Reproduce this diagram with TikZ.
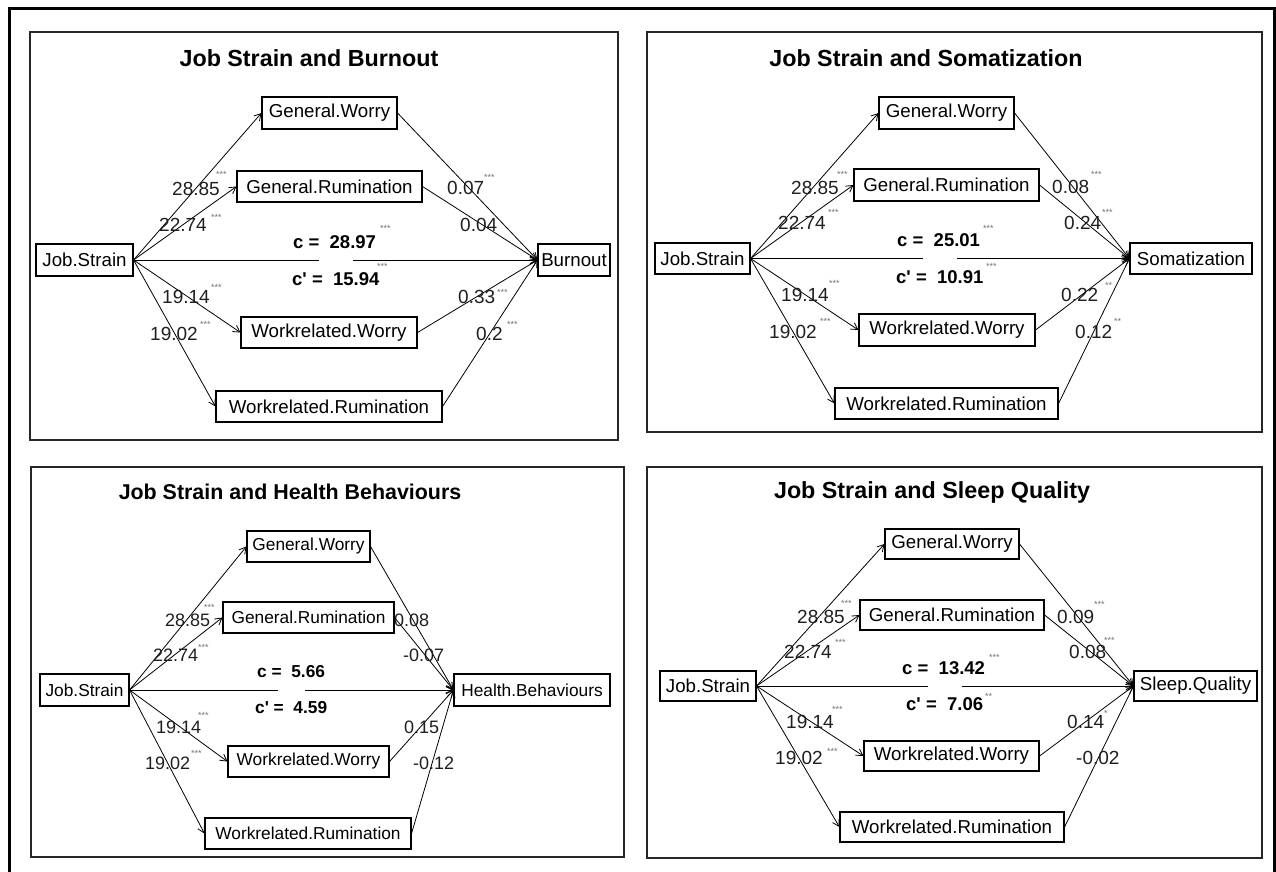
\documentclass[tikz,border=0pt]{standalone}
\usepackage{fontspec}
\setmainfont{Liberation Sans}
\usetikzlibrary{arrows.meta}

% box given by its corners: name, x1, y1, x2, y2, text
\newcommand\boxat[6]{%
  \node[box, minimum width={#4-#2}, minimum height={#5-#3}] (#1) at ({(#2+#4)/2},{(#3+#5)/2}) {#6};}
% path coefficient: name, left x, centre y, text
\newcommand\coefat[4]{\node[coef] (#1) at (#2,#3) {#4};}
% total / direct effect: name, left x, centre y, text
\newcommand\cvalat[4]{\node[cval] (#1) at (#2,#3) {#4};}
% significance stars: name, left x, centre y, stars
\newcommand\starsat[4]{\node[stars] (#1) at (#2,#3) {#4};}
\newcommand\cpr{c\textquotesingle}

\tikzset{
  frame/.style={draw=black!85, line width=1.3pt},
  box/.style={draw, line width=1.1pt, inner sep=0pt, font=\fontsize{18.7}{22}\selectfont},
  coef/.style={anchor=west, inner sep=0pt, font=\fontsize{19}{22}\selectfont, text=black!88},
  cval/.style={anchor=west, inner sep=0pt, font=\bfseries\fontsize{18.5}{22}\selectfont},
  stars/.style={anchor=west, inner sep=0pt, font=\fontsize{9}{10}\selectfont, text=black!55},
  ttl/.style={font=\bfseries\fontsize{23.3}{26}\selectfont},
  arr/.style={line width=0.8pt, -{Straight Barb[angle=60:7.5pt]}},
  direct/.style={line width=1pt, -{Straight Barb[angle=60:7.5pt]}},
  gap/.style={fill=white, inner sep=0pt, minimum width=34pt, minimum height=5pt},
}

\begin{document}
\begin{tikzpicture}[x=1pt,y=-1pt]
\path[use as bounding box, fill=white] (0,0) rectangle (1276,871);

% outer frame
\draw[line width=2.7pt] (9.3,880) -- (9.3,8.7) -- (1274.6,8.7) -- (1274.6,880);

% ---------- Job Strain and Burnout ----------
\draw[frame] (30,32) rectangle (618,440);
\node[ttl] (p1title) at (309,58) {Job Strain and Burnout};
\boxat{p1js}{36}{244}{133}{276}{Job.Strain}
\boxat{p1gw}{262}{97}{397}{129}{General.Worry}
\boxat{p1gr}{237}{171}{422}{202}{General.Rumination}
\boxat{p1ww}{241}{317}{417}{348}{Workrelated.Worry}
\boxat{p1wr}{216}{391}{442}{422}{Workrelated.Rumination}
\boxat{p1out}{538}{244}{610}{276}{Burnout}
\foreach \m in {gw,gr,ww,wr} {
  \draw[arr] (p1js.east) -- (p1\m.west);
  \draw[arr] (p1\m.east) -- (p1out.west);
}
\draw[direct] (p1js.east) -- node[gap] (p1gap) {} (p1out.west);
\coefat{p1a}{172}{189}{28.85}  \starsat{p1as}{216}{174}{***}
\coefat{p1b}{159}{225}{22.74}  \starsat{p1bs}{211}{217}{***}
\coefat{p1c}{162}{297}{19.14}  \starsat{p1cs}{211}{287}{***}
\coefat{p1d}{150}{334}{19.02}  \starsat{p1ds}{200}{324}{***}
\coefat{p1e}{447}{188}{0.07}   \starsat{p1es}{484}{177}{***}
\coefat{p1f}{460}{225}{0.04}
\coefat{p1g}{458}{297}{0.33}   \starsat{p1gs}{497}{292}{***}
\coefat{p1h}{476}{334}{0.2}    \starsat{p1hs}{507}{324}{***}
\cvalat{p1tot}{293}{242}{c = \ 28.97}    \starsat{p1tots}{380}{228}{***}
\cvalat{p1dir}{292}{279}{\cpr{} = \ 15.94} \starsat{p1dirs}{377}{266}{***}

% ---------- Job Strain and Somatization ----------
\draw[frame] (647,32) rectangle (1262,432);
\node[ttl] (p2title) at (926,58) {Job Strain and Somatization};
\boxat{p2js}{655}{243}{750}{274}{Job.Strain}
\boxat{p2gw}{879}{97}{1014}{129}{General.Worry}
\boxat{p2gr}{854}{169}{1039}{201}{General.Rumination}
\boxat{p2ww}{859}{314}{1035}{346}{Workrelated.Worry}
\boxat{p2wr}{835}{388}{1058}{419}{Workrelated.Rumination}
\boxat{p2out}{1130}{243}{1252}{274}{Somatization}
\foreach \m in {gw,gr,ww,wr} {
  \draw[arr] (p2js.east) -- (p2\m.west);
  \draw[arr] (p2\m.east) -- (p2out.west);
}
\draw[direct] (p2js.east) -- node[gap] (p2gap) {} (p2out.west);
\coefat{p2a}{791}{188}{28.85}  \starsat{p2as}{837}{174}{***}
\coefat{p2b}{778}{223}{22.74}  \starsat{p2bs}{828}{212}{***}
\coefat{p2c}{781}{295}{19.14}  \starsat{p2cs}{829}{283}{***}
\coefat{p2d}{769}{332}{19.02}  \starsat{p2ds}{820}{321}{***}
\coefat{p2e}{1052}{187}{0.08}  \starsat{p2es}{1091}{174}{***}
\coefat{p2f}{1064}{223}{0.24}  \starsat{p2fs}{1102}{212}{***}
\coefat{p2g}{1061}{295}{0.22}  \starsat{p2gs}{1105}{285}{**}
\coefat{p2h}{1075}{332}{0.12}  \starsat{p2hs}{1114}{321}{**}
\cvalat{p2tot}{897}{240}{c = \ 25.01}    \starsat{p2tots}{983}{228}{***}
\cvalat{p2dir}{896}{277}{\cpr{} = \ 10.91} \starsat{p2dirs}{986}{266}{***}

% ---------- Job Strain and Health Behaviours ----------
\begin{scope}[box/.append style={font=\fontsize{17.3}{20}\selectfont},
              coef/.append style={font=\fontsize{18}{21}\selectfont},
              cval/.append style={font=\bfseries\fontsize{17.3}{20}\selectfont},
              ttl/.append style={font=\bfseries\fontsize{21.4}{24}\selectfont}]
\draw[frame] (31,467) rectangle (624,857);
\node[ttl] (p3title) at (290,492) {Job Strain and Health Behaviours};
\boxat{p3js}{40}{674}{129}{706}{Job.Strain}
\boxat{p3gw}{247}{531}{370}{562}{General.Worry}
\boxat{p3gr}{223}{602}{394}{633}{General.Rumination}
\boxat{p3ww}{228}{746}{389}{777}{Workrelated.Worry}
\boxat{p3wr}{205}{818}{411}{849}{Workrelated.Rumination}
\boxat{p3out}{454}{674}{610}{706}{Health.Behaviours}
\foreach \m in {gw,gr,ww,wr} {
  \draw[arr] (p3js.east) -- (p3\m.west);
  \draw[arr] (p3\m.east) -- (p3out.west);
}
\draw[direct] (p3js.east) -- node[gap, minimum width=27pt] (p3gap) {} (p3out.west);
\coefat{p3a}{165}{620}{28.85}  \starsat{p3as}{204}{607}{***}
\coefat{p3b}{153}{655}{22.74}  \starsat{p3bs}{198}{647}{***}
\coefat{p3c}{156}{727}{19.14}  \starsat{p3cs}{198}{715}{***}
\coefat{p3d}{145}{763}{19.02}  \starsat{p3ds}{191}{753}{***}
\coefat{p3e}{394}{620}{0.08}
\coefat{p3f}{403}{655}{-0.07}
\coefat{p3g}{404}{727}{0.15}
\coefat{p3h}{413}{763}{-0.12}
\cvalat{p3tot}{257}{672}{c = \ 5.66}
\cvalat{p3dir}{255}{708}{\cpr{} = \ 4.59}
\end{scope}

% ---------- Job Strain and Sleep Quality ----------
\draw[frame] (647,467) rectangle (1262,858);
\node[ttl] (p4title) at (932,492) {Job Strain and Sleep Quality};
\boxat{p4js}{660}{671}{756}{701}{Job.Strain}
\boxat{p4gw}{885}{529}{1019}{559}{General.Worry}
\boxat{p4gr}{860}{600}{1044}{630}{General.Rumination}
\boxat{p4ww}{864}{741}{1039}{771}{Workrelated.Worry}
\boxat{p4wr}{840}{812}{1064}{842}{Workrelated.Rumination}
\boxat{p4out}{1134}{671}{1257}{701}{Sleep.Quality}
\foreach \m in {gw,gr,ww,wr} {
  \draw[arr] (p4js.east) -- (p4\m.west);
  \draw[arr] (p4\m.east) -- (p4out.west);
}
\draw[direct] (p4js.east) -- node[gap] (p4gap) {} (p4out.west);
\coefat{p4a}{797}{617}{28.85}  \starsat{p4as}{841}{603}{***}
\coefat{p4b}{784}{652}{22.74}  \starsat{p4bs}{835}{642}{***}
\coefat{p4c}{786}{722}{19.14}  \starsat{p4cs}{832}{709}{***}
\coefat{p4d}{775}{758}{19.02}  \starsat{p4ds}{827}{751}{***}
\coefat{p4e}{1057}{617}{0.09}  \starsat{p4es}{1094}{604}{***}
\coefat{p4f}{1069}{652}{0.08}  \starsat{p4fs}{1104}{640}{***}
\coefat{p4g}{1067}{722}{0.14}  \starsat{p4gs}{1104}{713}{*}
\coefat{p4h}{1076}{758}{-0.02}
\cvalat{p4tot}{902}{668}{c = \ 13.42}   \starsat{p4tots}{989}{657}{***}
\cvalat{p4dir}{906}{704}{\cpr{} = \ 7.06} \starsat{p4dirs}{985}{696}{**}

\end{tikzpicture}
\end{document}
